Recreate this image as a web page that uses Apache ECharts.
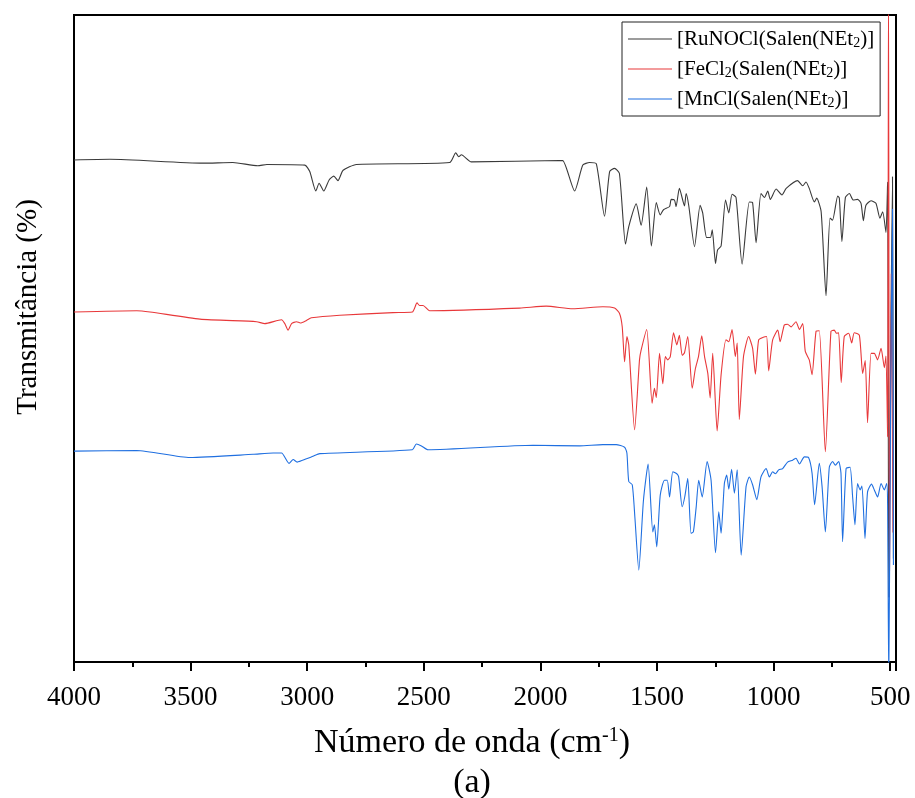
<!DOCTYPE html>
<html>
<head>
<meta charset="utf-8">
<script src="https://cdn.jsdelivr.net/npm/echarts@6/dist/echarts.min.js"></script>
<style>
  html, body { margin: 0; padding: 0; background: #fff; }
  #chart { width: 915px; height: 798px; }
</style>
</head>
<body>
<div id="chart"></div>
<script>
// 光谱数据（波数 cm-1 / 透过率，纵轴为偏移后的任意单位）
const wnRu = [4000,3846,3447,3319,3212,3173,3010,2989,2963,2949,2929,2906,2886,2868,2846,2789,2389,2363,2350,2339,2296,1918,1904,1853,1818,1789,1760,1725,1703,1682,1661,1635,1621,1589,1568,1544,1524,1503,1486,1472,1446,1439,1425,1418,1404,1382,1375,1364,1339,1315,1304,1287,1271,1263,1249,1240,1225,1206,1192,1178,1161,1135,1104,1090,1075,1054,1039,1025,1014,989,964,946,897,875,861,847,825,815,796,775,758,747,725,718,707,692,675,658,640,625,615,604,582,561,544,532,518,511,506,500,490,486];
const tRu = [77.6,77.7,77.1,77.2,76.7,76.9,76.8,75.8,72.8,74.0,72.8,74.5,75.1,74.4,76.0,76.9,77.2,78.7,78.1,78.4,77.3,77.5,77.5,72.8,76.8,77.2,77.0,68.9,75.8,76.3,75.5,64.6,67.3,70.8,67.5,73.4,64.3,71.0,69.1,69.9,70.4,71.5,71.4,70.4,73.2,70.5,72.4,70.6,64.2,70.6,69.4,65.6,65.6,66.8,61.6,63.7,64.3,71.4,69.4,72.3,71.8,61.5,71.1,71.0,64.8,72.4,71.8,72.8,71.5,73.1,72.2,73.2,74.4,73.6,74.2,73.2,71.1,71.7,69.6,56.6,68.6,68.3,72.0,71.7,65.0,71.8,72.4,71.4,71.5,70.9,68.2,70.6,71.3,70.9,68.6,69.6,66.4,74.2,10,40,75,16];

const wnFe = [4000,3731,3674,3460,3217,3182,3110,3096,3082,3067,3046,3029,3003,2982,2860,2632,2549,2529,2518,2503,2475,2089,1975,1861,1732,1682,1661,1649,1639,1629,1621,1596,1575,1568,1544,1521,1511,1503,1489,1475,1464,1454,1443,1429,1415,1404,1392,1382,1368,1349,1335,1322,1308,1296,1282,1272,1261,1242,1225,1204,1192,1178,1164,1156,1147,1129,1107,1090,1078,1064,1044,1030,1021,1004,982,972,954,940,925,904,889,875,864,847,835,818,804,778,754,740,730,721,710,697,678,665,654,632,618,607,597,582,568,554,539,525,518,511,507,503,495,488];
const tFe = [54.1,54.3,54.1,53.0,52.6,52.3,52.9,52.3,51.3,52.3,52.6,52.4,52.8,53.2,53.6,54.0,54.1,55.5,55.1,55.1,54.3,54.7,55.0,54.6,54.9,54.7,53.9,51.8,46.4,50.3,49.0,35.9,46.7,48.2,51.4,40.0,42.3,40.9,47.7,43.0,47.2,46.7,47.2,50.9,49.0,50.5,47.4,47.8,50.3,42.3,45.4,47.2,50.4,47.2,44.6,40.8,47.7,35.7,44.4,49.8,49.5,51.4,47.2,49.3,37.5,47.2,50.3,48.5,44.5,49.8,50.2,50.3,45.0,49.8,51.3,49.5,52.1,52.2,51.8,52.6,51.4,52.3,48.0,46.7,44.4,51.1,51.2,32.5,51.1,51.3,50.8,50.9,43.2,50.3,50.8,49.3,50.9,50.5,44.6,46.6,37.0,47.7,47.7,46.7,48.5,45.5,47.3,34.8,105,10,60,20];

const wnMn = [4000,3731,3503,3232,3146,3110,3078,3060,3043,3003,2975,2946,2549,2532,2510,2482,2032,1832,1732,1675,1639,1629,1621,1606,1595,1578,1558,1538,1518,1511,1501,1486,1468,1456,1446,1432,1415,1407,1392,1381,1368,1354,1344,1332,1321,1306,1285,1268,1249,1235,1225,1211,1201,1192,1180,1168,1156,1139,1118,1104,1090,1072,1054,1032,1018,1004,992,978,961,940,918,904,889,868,850,835,824,804,792,778,761,747,735,721,711,704,689,672,661,651,640,629,621,608,597,580,568,554,539,525,515,511,506,498,490,486];
const tMn = [32.6,32.7,31.6,32.1,32.3,32.3,30.7,31.3,30.9,31.4,31.8,32.2,32.8,33.7,33.4,32.8,33.5,33.4,33.6,33.6,33.2,32.3,27.9,27.4,22.5,14.2,25.0,30.6,20.1,21.2,17.8,25.8,28.1,28.1,25.5,29.4,29.1,28.6,24.0,25.5,28.4,19.9,20.1,23.9,28.1,25.5,31.0,28.1,16.9,23.2,19.9,27.6,28.9,26.7,29.8,26.1,29.7,16.5,27.1,28.6,27.4,25.1,28.6,29.9,28.6,29.4,29.1,29.7,29.9,30.9,31.2,31.5,30.6,31.7,31.6,29.2,24.3,30.7,27.1,20.1,30.1,31.0,30.4,31.0,29.2,18.6,29.9,30.1,25.5,21.2,27.6,26.6,27.2,19.1,26.3,27.5,26.6,25.5,27.6,26.6,27.6,24.3,-3,40,70,15];

const names = ['[RuNOCl(Salen(NEt2)]', '[FeCl2(Salen(NEt2)]', '[MnCl(Salen(NEt2)]'];
const colors = ['#3a3a3a', '#e8383a', '#1f6fe0'];

const FONT = '"Liberation Serif", "Times New Roman", serif';

const zip = (xs, ys) => xs.map((x, i) => [x, ys[i]]);

const chart = echarts.init(document.getElementById('chart'));

const makeSeries = (name, data, color) => ({
  name: name,
  type: 'line',
  data: data,
  symbol: 'none',
  smooth: 0.2,
  clip: true,
  lineStyle: { color: color, width: 1.1 },
  itemStyle: { color: color }
});

const option = {
  backgroundColor: '#fff',
  animation: false,
  grid: {
    left: 74,
    right: 19,
    top: 15,
    bottom: 136,
    show: true,
    borderColor: '#000',
    borderWidth: 2
  },
  xAxis: {
    type: 'value',
    inverse: true,
    min: 475,
    max: 4000,
    splitNumber: 7,
    minInterval: 500,
    maxInterval: 500,
    axisLine: { show: true, lineStyle: { color: '#000', width: 2 } },
    axisTick: { show: true, length: 9, lineStyle: { color: '#000', width: 2 } },
    minorTick: { show: true, splitNumber: 2, length: 5, lineStyle: { color: '#000', width: 2 } },
    axisLabel: {
      showMinLabel: false,
      margin: 22,
      fontFamily: FONT,
      fontSize: 27,
      color: '#000',
      formatter: (v) => String(v)
    },
    splitLine: { show: false }
  },
  yAxis: {
    type: 'value',
    min: 0,
    max: 100,
    axisLine: { show: true, lineStyle: { color: '#000', width: 2 } },
    axisTick: { show: false },
    axisLabel: { show: false },
    splitLine: { show: false }
  },
  legend: {
    orient: 'vertical',
    left: 622,
    top: 22,
    padding: [6, 6, 6, 6],
    itemGap: 8,
    itemWidth: 44,
    itemHeight: 1.2,
    icon: 'rect',
    borderColor: '#222',
    borderWidth: 1,
    data: names,
    formatter: (name) => name.replace(/2/g, '{sub|2}'),
    textStyle: {
      fontFamily: FONT,
      fontSize: 21,
      lineHeight: 22,
      color: '#000',
      rich: {
        sub: { fontFamily: FONT, fontSize: 14, lineHeight: 14, padding: [8, 0, 0, 0], color: '#000' }
      }
    }
  },
  graphic: [
    {
      type: 'text',
      x: 472,
      y: 743,
      style: {
        text: 'Número de onda (cm{sup|-1})',
        fontFamily: FONT,
        fontSize: 34,
        fill: '#000',
        align: 'center',
        verticalAlign: 'middle',
        rich: {
          sup: { fontFamily: FONT, fontSize: 20, lineHeight: 20, padding: [0, 0, 14, 0], fill: '#000' }
        }
      }
    },
    {
      type: 'text',
      x: 472,
      y: 783,
      style: {
        text: '(a)',
        fontFamily: FONT,
        fontSize: 34,
        fill: '#000',
        align: 'center',
        verticalAlign: 'middle'
      }
    },
    {
      type: 'text',
      x: 28,
      y: 307,
      rotation: Math.PI / 2,
      style: {
        text: 'Transmitância (%)',
        fontFamily: FONT,
        fontSize: 29,
        fill: '#000',
        align: 'center',
        verticalAlign: 'middle'
      }
    }
  ],
  series: [
    makeSeries(names[0], zip(wnRu, tRu), colors[0]),
    makeSeries(names[1], zip(wnFe, tFe), colors[1]),
    makeSeries(names[2], zip(wnMn, tMn), colors[2])
  ]
};

chart.setOption(option);
</script>
</body>
</html>
